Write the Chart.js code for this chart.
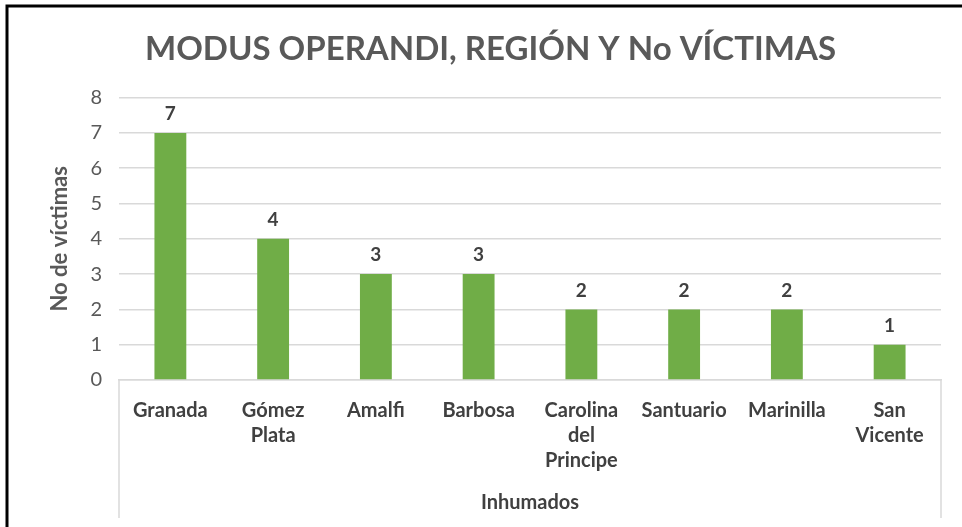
<!DOCTYPE html>
<html lang="es">
<head>
  <meta charset="UTF-8" />
  <title>Modus operandi, región y No víctimas</title>
  <script src="https://cdn.jsdelivr.net/npm/chart.js@4.4.1/dist/chart.umd.min.js"></script>
  <style>
    * { box-sizing: border-box; margin: 0; padding: 0; }
    body { background: #ffffff; overflow: hidden; }
    .chart-wrapper { position: relative; width: 962px; height: 527px; }
  </style>
</head>
<body>
  <div class="chart-wrapper">
    <canvas id="victimChart"></canvas>
  </div>

  <script>
    const municipios = [
      'Granada', ['Gómez', 'Plata'], 'Amalfi', 'Barbosa',
      ['Carolina', 'del', 'Principe'], 'Santuario', 'Marinilla', ['San', 'Vicente']
    ];
    const victimas = [7, 4, 3, 3, 2, 2, 2, 1];
    const grupo = 'Inhumados';
    const yTicks = [0, 1, 2, 3, 4, 5, 6, 7, 8];

    const textDark = '#404040';
    const textGray = '#595959';
    const gridGray = '#d9d9d9';
    const fontFamily = 'Lato, "Open Sans", sans-serif';

    // numbers above the bars
    const barLabels = {
      id: 'barLabels',
      afterDatasetsDraw(chart) {
        const ctx = chart.ctx;
        const meta = chart.getDatasetMeta(0);
        ctx.save();
        ctx.font = `bold 19px ${fontFamily}`;
        ctx.fillStyle = textDark;
        ctx.textAlign = 'center';
        ctx.textBaseline = 'middle';
        meta.data.forEach((bar, i) => {
          ctx.fillText(String(victimas[i]), bar.x, bar.y - 19);
        });
        ctx.restore();
      }
    };

    // group label under the categories, side lines and the outer frame
    const groupAxis = {
      id: 'groupAxis',
      afterDraw(chart) {
        const { ctx, chartArea } = chart;
        ctx.save();
        ctx.strokeStyle = gridGray;
        ctx.lineWidth = 1.5;
        ctx.beginPath();
        ctx.moveTo(chartArea.left, chartArea.bottom);
        ctx.lineTo(chartArea.left, 518);
        ctx.moveTo(chartArea.right, chartArea.bottom);
        ctx.lineTo(chartArea.right, 518);
        ctx.stroke();

        ctx.font = `bold 20px ${fontFamily}`;
        ctx.fillStyle = textDark;
        ctx.textAlign = 'center';
        ctx.textBaseline = 'middle';
        ctx.fillText(grupo, (chartArea.left + chartArea.right) / 2, 503);

        ctx.strokeStyle = '#000000';
        ctx.lineWidth = 3;
        ctx.beginPath();
        ctx.moveTo(7, 527);
        ctx.lineTo(7, 6);
        ctx.lineTo(962, 6);
        ctx.stroke();
        ctx.restore();
      }
    };

    new Chart(document.getElementById('victimChart'), {
      type: 'bar',
      data: {
        labels: municipios,
        datasets: [{
          label: 'No de víctimas',
          data: victimas,
          backgroundColor: '#70ad47',
          borderWidth: 0,
          categoryPercentage: 1,
          barPercentage: 0.31
        }]
      },
      options: {
        responsive: true,
        maintainAspectRatio: false,
        animation: false,
        layout: { padding: { left: 40, right: 21, top: 0, bottom: 0 } },
        plugins: {
          legend: { display: false },
          tooltip: { enabled: false },
          title: {
            display: true,
            text: 'MODUS OPERANDI, REGIÓN Y No VÍCTIMAS',
            color: textGray,
            font: { family: fontFamily, size: 33, weight: 'bold', lineHeight: 1.2 },
            padding: { top: 30, bottom: 28 }
          }
        },
        scales: {
          x: {
            grid: { display: false, drawTicks: false },
            border: { display: true, color: gridGray, width: 1.5 },
            ticks: {
              color: textDark,
              font: { family: fontFamily, size: 20, weight: 'bold', lineHeight: 1.25 },
              padding: 18,
              maxRotation: 0,
              autoSkip: false
            },
            afterFit(scale) { scale.height = 147; }
          },
          y: {
            min: 0,
            max: 8,
            afterBuildTicks(scale) { scale.ticks = yTicks.map(v => ({ value: v })); },
            grid: { color: gridGray, lineWidth: 1.5, drawTicks: false },
            border: { display: false },
            ticks: {
              color: textGray,
              font: { family: fontFamily, size: 20 },
              padding: 17
            },
            title: {
              display: true,
              text: 'No de víctimas',
              color: textGray,
              font: { family: fontFamily, size: 22, weight: 'bold' },
              padding: { top: 7, bottom: 0 }
            },
            afterFit(scale) { scale.width = 79; }
          }
        }
      },
      plugins: [barLabels, groupAxis]
    });
  </script>
</body>
</html>
